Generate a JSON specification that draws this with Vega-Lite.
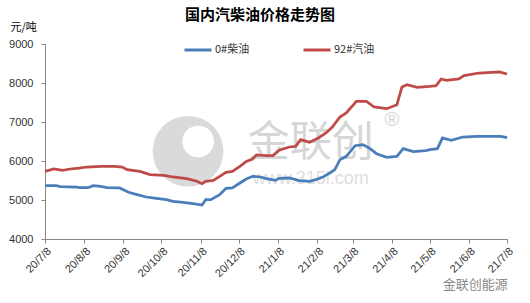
{
  "$schema": "https://vega.github.io/schema/vega-lite/v6.json",
  "autosize": "none",
  "width": 462,
  "height": 195,
  "padding": {"left": 45, "top": 44, "right": 23, "bottom": 64},
  "background": "white",
  "title": {"text": "国内汽柴油价格走势图", "font": "Noto Sans CJK SC", "fontSize": 15, "fontWeight": "bold", "color": "#000000", "anchor": "middle", "frame": "group", "dx": -16, "offset": -2},
  "config": {
    "view": {"stroke": null},
    "axis": {"grid": false, "domainColor": "#868686", "tickColor": "#868686", "tickSize": 4, "labelColor": "#333333", "labelFont": "Liberation Sans", "labelFontSize": 11, "labelOverlap": false, "labelFlush": false},
    "axisX": {"title": null, "labelAngle": -45, "labelPadding": 2},
    "axisY": {"labelPadding": 8, "titleAngle": 0, "titleAlign": "left", "titleBaseline": "middle", "titleX": -35, "titleY": -17, "titleFont": "Noto Sans CJK SC", "titleFontSize": 11, "titleFontWeight": "normal", "titleColor": "#000000"}
  },
  "data": {"values": [
    {"date": "2020-07-08", "type": "92#汽油", "price": 5735},
    {"date": "2020-07-15", "type": "92#汽油", "price": 5795},
    {"date": "2020-07-22", "type": "92#汽油", "price": 5760},
    {"date": "2020-07-28", "type": "92#汽油", "price": 5795},
    {"date": "2020-08-04", "type": "92#汽油", "price": 5820},
    {"date": "2020-08-10", "type": "92#汽油", "price": 5846},
    {"date": "2020-08-21", "type": "92#汽油", "price": 5863},
    {"date": "2020-09-01", "type": "92#汽油", "price": 5863},
    {"date": "2020-09-07", "type": "92#汽油", "price": 5846},
    {"date": "2020-09-11", "type": "92#汽油", "price": 5778},
    {"date": "2020-09-21", "type": "92#汽油", "price": 5735},
    {"date": "2020-09-29", "type": "92#汽油", "price": 5650},
    {"date": "2020-10-10", "type": "92#汽油", "price": 5632},
    {"date": "2020-10-17", "type": "92#汽油", "price": 5590},
    {"date": "2020-10-28", "type": "92#汽油", "price": 5547},
    {"date": "2020-11-05", "type": "92#汽油", "price": 5480},
    {"date": "2020-11-09", "type": "92#汽油", "price": 5419},
    {"date": "2020-11-12", "type": "92#汽油", "price": 5480},
    {"date": "2020-11-18", "type": "92#汽油", "price": 5504},
    {"date": "2020-11-23", "type": "92#汽油", "price": 5607},
    {"date": "2020-11-28", "type": "92#汽油", "price": 5709},
    {"date": "2020-12-03", "type": "92#汽油", "price": 5735},
    {"date": "2020-12-09", "type": "92#汽油", "price": 5863},
    {"date": "2020-12-14", "type": "92#汽油", "price": 5990},
    {"date": "2020-12-19", "type": "92#汽油", "price": 6050},
    {"date": "2020-12-22", "type": "92#汽油", "price": 6154},
    {"date": "2020-12-30", "type": "92#汽油", "price": 6137},
    {"date": "2021-01-04", "type": "92#汽油", "price": 6137},
    {"date": "2021-01-09", "type": "92#汽油", "price": 6274},
    {"date": "2021-01-17", "type": "92#汽油", "price": 6359},
    {"date": "2021-01-22", "type": "92#汽油", "price": 6376},
    {"date": "2021-01-26", "type": "92#汽油", "price": 6547},
    {"date": "2021-02-02", "type": "92#汽油", "price": 6479},
    {"date": "2021-02-09", "type": "92#汽油", "price": 6590},
    {"date": "2021-02-15", "type": "92#汽油", "price": 6718},
    {"date": "2021-02-20", "type": "92#汽油", "price": 6872},
    {"date": "2021-02-26", "type": "92#汽油", "price": 7128},
    {"date": "2021-03-03", "type": "92#汽油", "price": 7231},
    {"date": "2021-03-11", "type": "92#汽油", "price": 7530},
    {"date": "2021-03-19", "type": "92#汽油", "price": 7530},
    {"date": "2021-03-25", "type": "92#汽油", "price": 7385},
    {"date": "2021-04-04", "type": "92#汽油", "price": 7342},
    {"date": "2021-04-12", "type": "92#汽油", "price": 7444},
    {"date": "2021-04-16", "type": "92#汽油", "price": 7897},
    {"date": "2021-04-20", "type": "92#汽油", "price": 7957},
    {"date": "2021-04-28", "type": "92#汽油", "price": 7889},
    {"date": "2021-05-08", "type": "92#汽油", "price": 7915},
    {"date": "2021-05-13", "type": "92#汽油", "price": 7932},
    {"date": "2021-05-17", "type": "92#汽油", "price": 8103},
    {"date": "2021-05-21", "type": "92#汽油", "price": 8068},
    {"date": "2021-05-31", "type": "92#汽油", "price": 8103},
    {"date": "2021-06-04", "type": "92#汽油", "price": 8188},
    {"date": "2021-06-16", "type": "92#汽油", "price": 8256},
    {"date": "2021-06-26", "type": "92#汽油", "price": 8274},
    {"date": "2021-07-02", "type": "92#汽油", "price": 8282},
    {"date": "2021-07-08", "type": "92#汽油", "price": 8231},
    {"date": "2020-07-08", "type": "0#柴油", "price": 5368},
    {"date": "2020-07-17", "type": "0#柴油", "price": 5368},
    {"date": "2020-07-20", "type": "0#柴油", "price": 5342},
    {"date": "2020-08-02", "type": "0#柴油", "price": 5333},
    {"date": "2020-08-04", "type": "0#柴油", "price": 5316},
    {"date": "2020-08-11", "type": "0#柴油", "price": 5316},
    {"date": "2020-08-15", "type": "0#柴油", "price": 5368},
    {"date": "2020-08-21", "type": "0#柴油", "price": 5350},
    {"date": "2020-08-26", "type": "0#柴油", "price": 5316},
    {"date": "2020-09-05", "type": "0#柴油", "price": 5308},
    {"date": "2020-09-12", "type": "0#柴油", "price": 5197},
    {"date": "2020-09-18", "type": "0#柴油", "price": 5145},
    {"date": "2020-09-26", "type": "0#柴油", "price": 5077},
    {"date": "2020-10-04", "type": "0#柴油", "price": 5043},
    {"date": "2020-10-12", "type": "0#柴油", "price": 5009},
    {"date": "2020-10-17", "type": "0#柴油", "price": 4966},
    {"date": "2020-10-25", "type": "0#柴油", "price": 4940},
    {"date": "2020-11-02", "type": "0#柴油", "price": 4906},
    {"date": "2020-11-09", "type": "0#柴油", "price": 4872},
    {"date": "2020-11-12", "type": "0#柴油", "price": 5009},
    {"date": "2020-11-16", "type": "0#柴油", "price": 5009},
    {"date": "2020-11-23", "type": "0#柴油", "price": 5137},
    {"date": "2020-11-28", "type": "0#柴油", "price": 5299},
    {"date": "2020-12-03", "type": "0#柴油", "price": 5308},
    {"date": "2020-12-09", "type": "0#柴油", "price": 5436},
    {"date": "2020-12-14", "type": "0#柴油", "price": 5538},
    {"date": "2020-12-19", "type": "0#柴油", "price": 5607},
    {"date": "2020-12-25", "type": "0#柴油", "price": 5590},
    {"date": "2020-12-30", "type": "0#柴油", "price": 5547},
    {"date": "2021-01-06", "type": "0#柴油", "price": 5504},
    {"date": "2021-01-09", "type": "0#柴油", "price": 5556},
    {"date": "2021-01-17", "type": "0#柴油", "price": 5564},
    {"date": "2021-01-25", "type": "0#柴油", "price": 5496},
    {"date": "2021-02-02", "type": "0#柴油", "price": 5479},
    {"date": "2021-02-07", "type": "0#柴油", "price": 5521},
    {"date": "2021-02-12", "type": "0#柴油", "price": 5581},
    {"date": "2021-02-18", "type": "0#柴油", "price": 5692},
    {"date": "2021-02-22", "type": "0#柴油", "price": 5778},
    {"date": "2021-02-26", "type": "0#柴油", "price": 6034},
    {"date": "2021-03-03", "type": "0#柴油", "price": 6120},
    {"date": "2021-03-10", "type": "0#柴油", "price": 6393},
    {"date": "2021-03-16", "type": "0#柴油", "price": 6419},
    {"date": "2021-03-21", "type": "0#柴油", "price": 6333},
    {"date": "2021-03-27", "type": "0#柴油", "price": 6188},
    {"date": "2021-04-04", "type": "0#柴油", "price": 6094},
    {"date": "2021-04-12", "type": "0#柴油", "price": 6120},
    {"date": "2021-04-17", "type": "0#柴油", "price": 6316},
    {"date": "2021-04-25", "type": "0#柴油", "price": 6239},
    {"date": "2021-05-05", "type": "0#柴油", "price": 6265},
    {"date": "2021-05-08", "type": "0#柴油", "price": 6291},
    {"date": "2021-05-14", "type": "0#柴油", "price": 6316},
    {"date": "2021-05-18", "type": "0#柴油", "price": 6590},
    {"date": "2021-05-25", "type": "0#柴油", "price": 6530},
    {"date": "2021-06-03", "type": "0#柴油", "price": 6615},
    {"date": "2021-06-14", "type": "0#柴油", "price": 6632},
    {"date": "2021-06-26", "type": "0#柴油", "price": 6632},
    {"date": "2021-07-03", "type": "0#柴油", "price": 6632},
    {"date": "2021-07-08", "type": "0#柴油", "price": 6598}
  ]},
  "layer": [
    {
      "data": {"values": [{}]},
      "mark": {"type": "point", "shape": "circle", "filled": true, "color": "#dadada", "opacity": 1, "size": 5000, "clip": false},
      "encoding": {
        "x": {
          "datum": {"year": 2020, "month": 10, "date": 29, "utc": true}, "type": "temporal",
          "scale": {"type": "utc", "domain": [{"year": 2020, "month": 7, "date": 8, "utc": true}, {"year": 2021, "month": 7, "date": 8, "utc": true}]},
          "axis": {
            "title": null,
            "tickCount": 30,
            "values": [
              {"year": 2020, "month": 7, "date": 8, "utc": true},
              {"year": 2020, "month": 8, "date": 8, "utc": true},
              {"year": 2020, "month": 9, "date": 8, "utc": true},
              {"year": 2020, "month": 10, "date": 8, "utc": true},
              {"year": 2020, "month": 11, "date": 8, "utc": true},
              {"year": 2020, "month": 12, "date": 8, "utc": true},
              {"year": 2021, "month": 1, "date": 8, "utc": true},
              {"year": 2021, "month": 2, "date": 8, "utc": true},
              {"year": 2021, "month": 3, "date": 8, "utc": true},
              {"year": 2021, "month": 4, "date": 8, "utc": true},
              {"year": 2021, "month": 5, "date": 8, "utc": true},
              {"year": 2021, "month": 6, "date": 8, "utc": true},
              {"year": 2021, "month": 7, "date": 8, "utc": true}
            ],
            "labelExpr": "utcFormat(datum.value, '%y/%-m/%-d')",
            "labelOverlap": false,
            "labelAngle": -45
          }
        },
        "y": {
          "datum": 6250, "type": "quantitative",
          "scale": {"domain": [4000, 9000], "nice": false, "zero": false},
          "axis": {
            "tickCount": 20,
            "values": [4000, 5000, 6000, 7000, 8000, 9000],
            "format": "d",
            "labelOverlap": false,
            "title": "元/吨"
          }
        }
      }
    },
    {
      "data": {"values": [{}]},
      "mark": {"type": "point", "shape": "circle", "filled": true, "color": "#ffffff", "opacity": 1, "size": 1000},
      "encoding": {
        "x": {"datum": {"year": 2020, "month": 11, "date": 6, "utc": true}, "type": "temporal"},
        "y": {"datum": 6500, "type": "quantitative"}
      }
    },
    {
      "data": {"values": [{}]},
      "mark": {"type": "text", "text": "金联创", "font": "Noto Sans CJK SC", "fontSize": 42, "color": "#d6d6d6", "align": "center", "baseline": "middle"},
      "encoding": {
        "x": {"datum": {"year": 2021, "month": 2, "date": 3, "utc": true}, "type": "temporal"},
        "y": {"datum": 6450, "type": "quantitative"}
      }
    },
    {
      "data": {"values": [{}]},
      "mark": {"type": "text", "text": "®", "font": "Liberation Sans", "fontSize": 20, "color": "#d6d6d6", "align": "center", "baseline": "middle"},
      "encoding": {
        "x": {"datum": {"year": 2021, "month": 4, "date": 8, "utc": true}, "type": "temporal"},
        "y": {"datum": 7051, "type": "quantitative"}
      }
    },
    {
      "data": {"values": [{}]},
      "mark": {"type": "text", "text": "www.315i.com", "font": "Liberation Sans", "fontSize": 18, "color": "#dedede", "align": "center", "baseline": "middle"},
      "encoding": {
        "x": {"datum": {"year": 2021, "month": 2, "date": 3, "utc": true}, "type": "temporal"},
        "y": {"datum": 5540, "type": "quantitative"}
      }
    },
    {
      "data": {"values": [{}]},
      "mark": {"type": "text", "text": "金联创能源", "font": "Noto Sans CJK SC", "fontSize": 13, "color": "#8a8a8a", "align": "center", "baseline": "middle", "clip": false},
      "encoding": {
        "x": {"datum": {"year": 2021, "month": 6, "date": 13, "utc": true}, "type": "temporal"},
        "y": {"datum": 2820, "type": "quantitative"}
      }
    },
    {
      "mark": {"type": "line", "strokeWidth": 2.75, "interpolate": "linear"},
      "encoding": {
        "x": {"field": "date", "type": "temporal"},
        "y": {"field": "price", "type": "quantitative"},
        "color": {
          "field": "type", "type": "nominal",
          "scale": {"domain": ["0#柴油", "92#汽油"], "range": ["#4a7ebb", "#be4b48"]},
          "legend": {
            "title": null, "orient": "none", "legendX": 138, "legendY": -9, "direction": "horizontal",
            "symbolType": "stroke", "symbolStrokeWidth": 3, "symbolSize": 729,
            "labelFont": "Noto Sans CJK SC", "labelFontSize": 11, "labelColor": "#333333", "labelOffset": 2, "columnPadding": 47, "padding": 0
          }
        }
      }
    }
  ]
}
